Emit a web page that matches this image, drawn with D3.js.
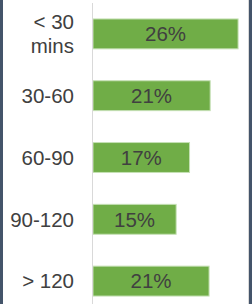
<!DOCTYPE html>
<html>
<head>
<meta charset="utf-8">
<script src="https://cdn.jsdelivr.net/npm/d3@7"></script>
<style>
  body { margin: 0; background: #fff; }
  text { font-family: 'Liberation Sans', Arial, sans-serif; fill: #404040; }
</style>
</head>
<body>
<script>
const categories = ['< 30|mins', '30-60', '60-90', '90-120', '> 120']
const values = [0.26, 0.21, 0.173, 0.149, 0.208]
const valueLabels = ['26%', '21%', '17%', '15%', '21%']

const svg = d3.select('body').append('svg')
  .attr('width', 252)
  .attr('height', 304)

// frame edges
svg.append('rect').attr('x', 0).attr('y', 0).attr('width', 3).attr('height', 304).attr('fill', '#44546a')
svg.append('rect').attr('x', 249).attr('y', 0).attr('width', 3).attr('height', 304).attr('fill', '#44546a')
svg.append('line').attr('x1', 248.5).attr('x2', 248.5).attr('y1', 0).attr('y2', 304).attr('stroke', '#d9d9d9')

const x = d3.scaleLinear().domain([0, 0.3]).range([93, 93 + 0.3 * 558])
const y = d3.scaleBand().domain(categories).range([3, 312]).paddingInner(0.5).paddingOuter(0.25)

const data = categories.map((c, i) => ({ cat: c, value: values[i], label: valueLabels[i] }))

svg.selectAll('.bar')
  .data(data)
  .enter()
  .append('rect')
  .attr('class', 'bar')
  .attr('x', x(0))
  .attr('y', (d) => y(d.cat) + 0.5)
  .attr('width', (d) => x(d.value) - x(0))
  .attr('height', y.bandwidth() - 1)
  .attr('fill', '#70ad47')
  .attr('stroke', '#c5e0b4')
  .attr('stroke-width', 1)

// value axis line
svg.append('line')
  .attr('x1', 92.5).attr('x2', 92.5)
  .attr('y1', 3).attr('y2', 304)
  .attr('stroke', '#d9d9d9')

svg.selectAll('.val')
  .data(data)
  .enter()
  .append('text')
  .attr('class', 'val')
  .attr('x', (d) => (x(0) + x(d.value)) / 2)
  .attr('y', (d) => y(d.cat) + y.bandwidth() / 2)
  .attr('dy', '0.36em')
  .attr('text-anchor', 'middle')
  .style('font-size', '20.5px')
  .text((d) => d.label)

const cats = svg.selectAll('.cat')
  .data(data)
  .enter()
  .append('text')
  .attr('class', 'cat')
  .attr('text-anchor', 'end')
  .style('font-size', '20.5px')
  .attr('y', (d) => y(d.cat) + y.bandwidth() / 2)

cats.each(function (d) {
  const lines = d.cat.split('|')
  const t = d3.select(this)
  const lh = 24
  lines.forEach((ln, i) => {
    t.append('tspan')
      .attr('x', 74)
      .attr('dy', i === 0 ? (0.36 * 20.5 - (lines.length - 1) * lh / 2) : lh)
      .text(ln)
  })
})
</script>
</body>
</html>
